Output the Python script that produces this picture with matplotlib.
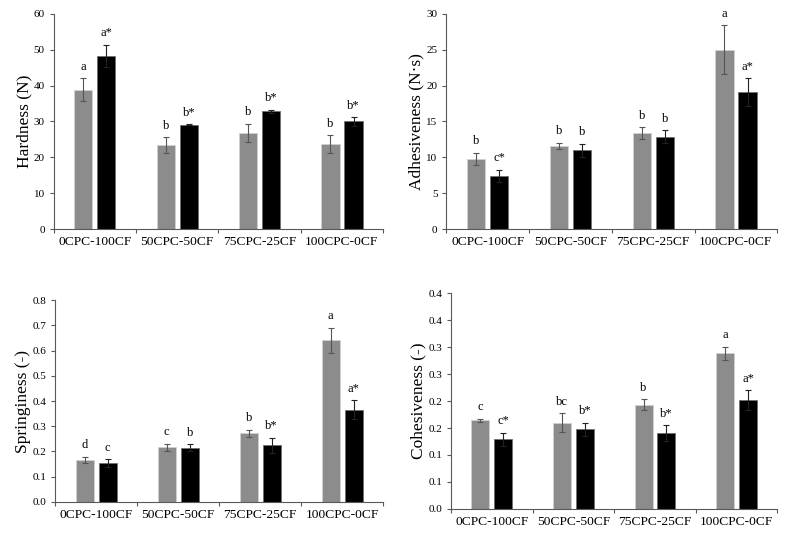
import numpy as np
import matplotlib
matplotlib.use('Agg')
import matplotlib.pyplot as plt
from matplotlib.ticker import MultipleLocator, FixedLocator

plt.rcParams['font.family'] = ['Liberation Serif', 'DejaVu Serif']

# categories shared by all four panels
samples = ['0CPC-100CF', '50CPC-50CF', '75CPC-25CF', '100CPC-0CF']

# Hardness (N)
hard_gray = [38.9, 23.4, 26.8, 23.6]
hard_gray_err = [3.1, 2.2, 2.5, 2.5]
hard_black = [48.3, 29.1, 32.9, 30.0]
hard_black_err = [3.1, 0.1, 0.4, 1.2]
hard_gray_lab = ['a', 'b', 'b', 'b']
hard_black_lab = ['a*', 'b*', 'b*', 'b*']

# Adhesiveness (N·s)
adh_gray = [9.8, 11.6, 13.4, 25.0]
adh_gray_err = [0.8, 0.4, 0.8, 3.4]
adh_black = [7.4, 11.0, 12.9, 19.1]
adh_black_err = [0.9, 0.9, 0.9, 1.9]
adh_gray_lab = ['b', 'b', 'b', 'a']
adh_black_lab = ['c*', 'b', 'b', 'a*']

# Springiness (-)
spr_gray = [0.167, 0.216, 0.273, 0.640]
spr_gray_err = [0.012, 0.014, 0.014, 0.051]
spr_black = [0.154, 0.215, 0.224, 0.366]
spr_black_err = [0.016, 0.014, 0.030, 0.037]
spr_gray_lab = ['d', 'c', 'b', 'a']
spr_black_lab = ['c', 'b', 'b*', 'a*']

# Cohesiveness (-)
coh_gray = [0.164, 0.160, 0.193, 0.289]
coh_gray_err = [0.003, 0.017, 0.010, 0.012]
coh_black = [0.129, 0.148, 0.140, 0.202]
coh_black_err = [0.012, 0.012, 0.015, 0.018]
coh_gray_lab = ['c', 'bc', 'b', 'a']
coh_black_lab = ['c*', 'b*', 'b*', 'a*']
coh_ticks = [0.0, 0.05, 0.1, 0.15, 0.2, 0.25, 0.3, 0.35, 0.4]
coh_tick_labels = ['0.0', '0.1', '0.1', '0.2', '0.2', '0.3', '0.3', '0.4', '0.4']

fig = plt.figure(figsize=(7.9, 5.34), dpi=100)

panels = [
    ([0.068, 0.571, 0.417, 0.403], 'Hardness (N)', hard_gray, hard_gray_err, hard_black, hard_black_err,
     hard_gray_lab, hard_black_lab, 60, 10),
    ([0.565, 0.571, 0.419, 0.403], 'Adhesiveness (N·s)', adh_gray, adh_gray_err, adh_black, adh_black_err,
     adh_gray_lab, adh_black_lab, 30, 5),
    ([0.070, 0.060, 0.415, 0.378], 'Springiness (-)', spr_gray, spr_gray_err, spr_black, spr_black_err,
     spr_gray_lab, spr_black_lab, 0.8, 0.1),
    ([0.571, 0.047, 0.413, 0.404], 'Cohesiveness (-)', coh_gray, coh_gray_err, coh_black, coh_black_err,
     coh_gray_lab, coh_black_lab, 0.4, None),
]

x = np.arange(len(samples))
w = 0.22
off = 0.14

for rect, ylabel, g, ge, b, be, glab, blab, ymax, step in panels:
    ax = fig.add_axes(rect)
    ax.bar(x - off, g, w, yerr=ge, color='#8c8c8c', edgecolor='#d0d0d0', linewidth=0.6,
           error_kw=dict(ecolor='#555555', elinewidth=0.8, capsize=2, capthick=0.8))
    ax.bar(x + off, b, w, yerr=be, color='black', edgecolor='#707070', linewidth=0.6,
           error_kw=dict(ecolor='#222222', elinewidth=0.8, capsize=2, capthick=0.8))
    for i in range(len(samples)):
        ax.annotate(glab[i], (x[i] - off, g[i] + ge[i]), xytext=(0, 4), textcoords='offset points',
                    ha='center', va='bottom', fontsize=9)
        ax.annotate(blab[i], (x[i] + off, b[i] + be[i]), xytext=(0, 4), textcoords='offset points',
                    ha='center', va='bottom', fontsize=9)

    ax.set_xlim(-0.5, len(samples) - 0.5)
    ax.set_ylim(0, ymax)
    ax.set_xticks(x)
    ax.set_xticklabels(samples, fontsize=9.7)
    ax.tick_params(axis='x', which='major', length=0, pad=5)
    ax.xaxis.set_minor_locator(FixedLocator(np.arange(-0.5, len(samples), 1.0)))
    ax.tick_params(axis='x', which='minor', length=3, color='#595959', width=0.8)

    if step is None:
        ax.set_yticks(coh_ticks)
        ax.set_yticklabels(coh_tick_labels)
    else:
        ax.yaxis.set_major_locator(MultipleLocator(step))
        if step < 1:
            ax.yaxis.set_major_formatter(plt.FormatStrFormatter('%.1f'))
    ax.tick_params(axis='y', labelsize=8, length=3, color='#595959', width=0.8)
    ax.set_ylabel(ylabel, fontsize=12.5, labelpad=1)

    for s in ['top', 'right']:
        ax.spines[s].set_visible(False)
    for s in ['left', 'bottom']:
        ax.spines[s].set_color('#595959')
        ax.spines[s].set_linewidth(0.8)

fig.savefig('out.png', dpi=100)
